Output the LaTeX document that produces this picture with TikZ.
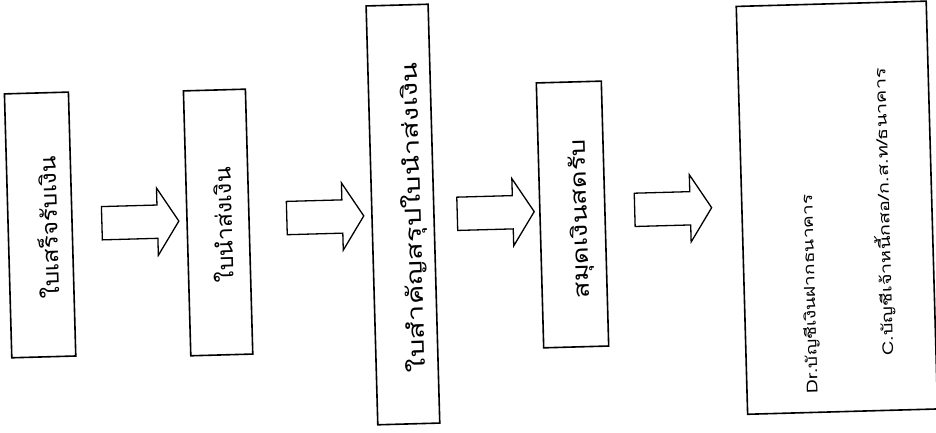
\documentclass[tikz,border=0pt]{standalone}
\usepackage{fontspec}
\newfontfamily\thaifont[Script=Thai]{Loma}
\newcommand\widen[1]{\addfontfeature{FakeStretch=#1}}
\usetikzlibrary{shapes.arrows}
\begin{document}
\begin{tikzpicture}[x=1pt,y=-1pt,
  box/.style={draw, line width=1.6pt, inner sep=0pt},
  flow/.style={draw, line width=1.3pt, single arrow, single arrow head extend=17pt,
    single arrow tip angle=115, minimum height=77pt, inner xsep=0pt, inner ysep=16pt},
  lbl/.style={rotate=90, font=\thaifont\fontsize{22}{26}\selectfont, inner sep=0pt},
  note/.style={rotate=90, font=\thaifont\fontsize{15}{18}\selectfont, inner sep=0pt}]
\useasboundingbox (0,0) rectangle (936,433);
\begin{scope}[rotate around={1.6:(468,216)}, transform shape]
  % boxes
  \node[box, minimum width=64pt, minimum height=264pt] (b1) at (40,213) {};
  \node[box, minimum width=62pt, minimum height=265pt] (b2) at (218,215.5) {};
  \node[box, minimum width=62pt, minimum height=419pt] (b3) at (403,212.7) {};
  \node[box, minimum width=65pt, minimum height=265pt] (b4) at (572.5,217.4) {};
  \node[box, minimum width=190pt, minimum height=408pt] (b5) at (837,218) {};
  % labels, read from bottom to top
  \node[lbl] (t1) at (47,216) {\widen{1.1}ใบเสร็จรับเงิน};
  \node[lbl] (t2) at (222,218) {\widen{1.05}ใบนำส่งเงิน};
  \node[lbl] (t3) at (414,216) {\widen{1.33}ใบสำคัญสรุปใบนำส่งเงิน};
  \node[lbl] (t4) at (581,222) {\widen{1.24}สมุดเงินสดรับ};
  \node[note] (dr) at (808,303.6) {\widen{1.28}Dr.บัญชีเงินฝากธนาคาร};
  \node[note] (cr) at (883,223.6) {\widen{1.33}C.บัญชีเจ้าหนี้กสอ/ก.ส.ท/ธนาคาร};
  % block arrows between the stages
  \node[flow] (a1) at (135,213) {};
  \node[flow] (a2) at (320,213) {};
  \node[flow] (a3) at (490.5,213.5) {};
  \node[flow] (a4) at (668,214.5) {};
\end{scope}
\end{tikzpicture}
\end{document}
